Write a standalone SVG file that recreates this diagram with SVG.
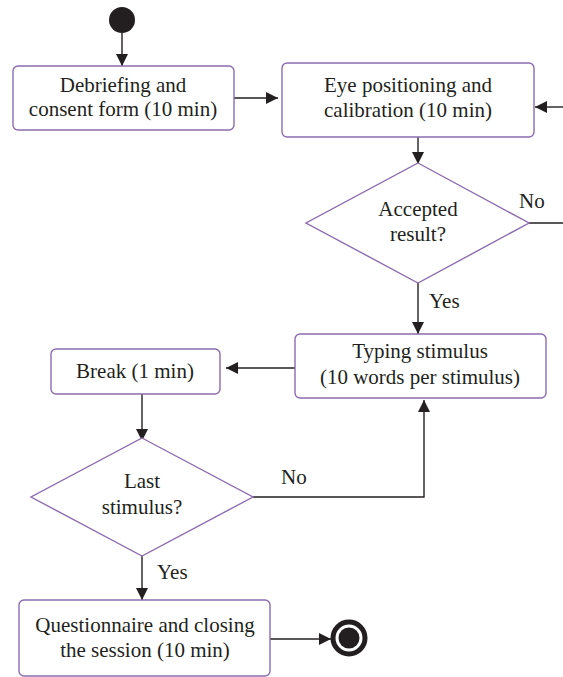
<svg xmlns="http://www.w3.org/2000/svg" width="563" height="677" viewBox="0 0 563 677">
  <style>
    .box { fill: #ffffff; stroke: #8c6bb1; stroke-width: 1.4; }
    .dec { fill: #ffffff; stroke: #8c6bb1; stroke-width: 1.4; }
    .lbl { font-family: "Liberation Serif", "Times New Roman", serif; font-size: 21px; fill: #231f20; text-anchor: middle; }
    .edge { fill: none; stroke: #231f20; stroke-width: 1.4; }
    .guard { font-family: "Liberation Serif", "Times New Roman", serif; font-size: 21px; fill: #231f20; }
  </style>
  <defs>
    <marker id="arrow" viewBox="0 0 12 12" refX="12" refY="6" markerWidth="12" markerHeight="12" markerUnits="userSpaceOnUse" orient="auto">
      <path d="M0,0 L12,6 L0,12 Z" fill="#231f20"/>
    </marker>
  </defs>
  <rect width="563" height="677" fill="#ffffff"/>

  <g id="connectors">
    <path class="edge" d="M122,33 V66" marker-end="url(#arrow)"/>
    <path class="edge" d="M234,98 H278" marker-end="url(#arrow)"/>
    <path class="edge" d="M563,107 H535" marker-end="url(#arrow)"/>
    <path class="edge" d="M418,137 V164" marker-end="url(#arrow)"/>
    <path class="edge" d="M529,223 H563"/>
    <path class="edge" d="M418,283 V334" marker-end="url(#arrow)"/>
    <path class="edge" d="M295,368 H226" marker-end="url(#arrow)"/>
    <path class="edge" d="M142,394 V441" marker-end="url(#arrow)"/>
    <path class="edge" d="M253,497 H424 V400" marker-end="url(#arrow)"/>
    <path class="edge" d="M142,556 V600" marker-end="url(#arrow)"/>
    <path class="edge" d="M270,639 H331" marker-end="url(#arrow)"/>
    <text class="guard" x="519" y="208">No</text>
    <text class="guard" x="429" y="308">Yes</text>
    <text class="guard" x="281" y="484">No</text>
    <text class="guard" x="157" y="579">Yes</text>
  </g>

  <g id="start">
    <circle cx="122" cy="20" r="13" fill="#231f20"/>
  </g>

  <g id="debriefing">
    <rect class="box" x="13" y="66" width="221" height="64" rx="5"/>
    <text class="lbl" x="123" y="92">Debriefing and</text>
    <text class="lbl" x="123" y="116">consent form (10 min)</text>
  </g>

  <g id="calibration">
    <rect class="box" x="282" y="63" width="252" height="74" rx="5"/>
    <text class="lbl" x="408" y="92">Eye positioning and</text>
    <text class="lbl" x="408" y="117">calibration (10 min)</text>
  </g>

  <g id="accepted">
    <polygon class="dec" points="418,163 529,223 418,283 306,223"/>
    <text class="lbl" x="418" y="216">Accepted</text>
    <text class="lbl" x="418" y="241">result?</text>
  </g>

  <g id="typing">
    <rect class="box" x="295" y="334" width="251" height="64" rx="5"/>
    <text class="lbl" x="420" y="358">Typing stimulus</text>
    <text class="lbl" x="420" y="384">(10 words per stimulus)</text>
  </g>

  <g id="break">
    <rect class="box" x="51" y="349" width="169" height="45" rx="5"/>
    <text class="lbl" x="135" y="378">Break (1 min)</text>
  </g>

  <g id="last">
    <polygon class="dec" points="142,438 253,497 142,556 31,497"/>
    <text class="lbl" x="142" y="488">Last</text>
    <text class="lbl" x="142" y="514">stimulus?</text>
  </g>

  <g id="questionnaire">
    <rect class="box" x="19" y="600" width="251" height="76" rx="5"/>
    <text class="lbl" x="145" y="632">Questionnaire and closing</text>
    <text class="lbl" x="145" y="657">the session (10 min)</text>
  </g>

  <g id="end">
    <circle cx="349" cy="638" r="16" fill="#ffffff" stroke="#231f20" stroke-width="5"/>
    <circle cx="349" cy="638" r="10.5" fill="#231f20"/>
  </g>
</svg>
